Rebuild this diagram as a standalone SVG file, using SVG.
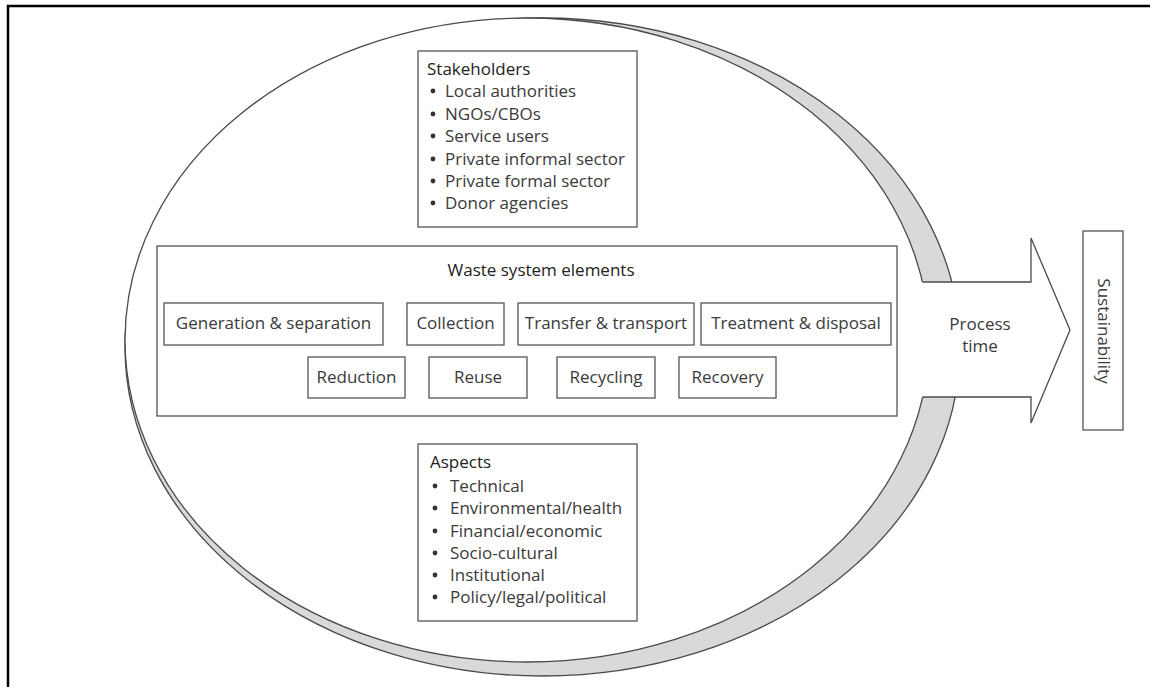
<svg xmlns="http://www.w3.org/2000/svg" width="1150" height="687" viewBox="0 0 1150 687">
<style>
text{font-family:"Open Sans","Liberation Sans",sans-serif;font-size:17px;fill:#3a3a3a}
.hd{fill:#222}
.box{fill:#fff;stroke:#555;stroke-width:1.3}
.lbl{text-anchor:middle}
.ln{fill:none;stroke:#4a4a4a;stroke-width:1.3}
.bul{fill:#333}
</style>
<rect width="1150" height="687" fill="#fff"/>
<path d="M8,687 V6 H1150" fill="none" stroke="#000" stroke-width="2.5"/>
<g id="disc">
<ellipse cx="542.5" cy="347" rx="417.5" ry="329" fill="#d9d9d9" stroke="#4a4a4a" stroke-width="1.3"/>
<ellipse cx="527" cy="340" rx="402" ry="322" fill="#fff" stroke="#4a4a4a" stroke-width="1.3"/>
</g>
<g id="connectors">
<polygon points="905,282 1031,282 1031,238 1070,330 1031,423 1031,397 905,397" fill="#fff" stroke="none"/>
<polyline class="ln" points="922.4,282 1031,282 1031,238 1070,330 1031,423 1031,397 922.6,397"/>
<text class="lbl" x="980" y="330">Process</text>
<text class="lbl" x="980" y="352">time</text>
</g>
<g id="stakeholders">
<rect class="box" x="418" y="51" width="219" height="176"/>
<text class="hd" x="427" y="75">Stakeholders</text>
<g class="bul"><circle cx="433" cy="91" r="2.4"/><circle cx="433" cy="114" r="2.4"/><circle cx="433" cy="136" r="2.4"/><circle cx="433" cy="159" r="2.4"/><circle cx="433" cy="181" r="2.4"/><circle cx="433" cy="203" r="2.4"/></g>
<text x="445" y="97">Local authorities</text>
<text x="445" y="120">NGOs/CBOs</text>
<text x="445" y="142">Service users</text>
<text x="445" y="165">Private informal sector</text>
<text x="445" y="187">Private formal sector</text>
<text x="445" y="209">Donor agencies</text>
</g>
<g id="waste-system">
<rect class="box" x="157" y="246" width="740" height="170"/>
<text class="hd lbl" x="541" y="276">Waste system elements</text>
</g>
<g id="generation"><rect class="box" x="164" y="303" width="219" height="42"/><text class="lbl" x="273.5" y="329">Generation &amp; separation</text></g>
<g id="collection"><rect class="box" x="407" y="303" width="97" height="42"/><text class="lbl" x="455.5" y="329">Collection</text></g>
<g id="transfer"><rect class="box" x="518" y="303" width="176" height="42"/><text class="lbl" x="606" y="329">Transfer &amp; transport</text></g>
<g id="treatment"><rect class="box" x="701" y="303" width="190" height="42"/><text class="lbl" x="796" y="329">Treatment &amp; disposal</text></g>
<g id="reduction"><rect class="box" x="308" y="357" width="97" height="41"/><text class="lbl" x="356.5" y="383">Reduction</text></g>
<g id="reuse"><rect class="box" x="429" y="357" width="98" height="41"/><text class="lbl" x="478" y="383">Reuse</text></g>
<g id="recycling"><rect class="box" x="557" y="357" width="98" height="41"/><text class="lbl" x="606" y="383">Recycling</text></g>
<g id="recovery"><rect class="box" x="679" y="357" width="97" height="41"/><text class="lbl" x="727.5" y="383">Recovery</text></g>
<g id="aspects">
<rect class="box" x="418" y="444" width="219" height="177"/>
<text class="hd" x="430" y="468">Aspects</text>
<g class="bul"><circle cx="435" cy="486" r="2.4"/><circle cx="435" cy="508" r="2.4"/><circle cx="435" cy="531" r="2.4"/><circle cx="435" cy="553" r="2.4"/><circle cx="435" cy="575" r="2.4"/><circle cx="435" cy="597" r="2.4"/></g>
<text x="450" y="492">Technical</text>
<text x="450" y="514">Environmental/health</text>
<text x="450" y="537">Financial/economic</text>
<text x="450" y="559">Socio-cultural</text>
<text x="450" y="581">Institutional</text>
<text x="450" y="603">Policy/legal/political</text>
</g>
<g id="sustainability">
<rect class="box" x="1083" y="231" width="40" height="199"/>
<text class="lbl" transform="translate(1104,331) rotate(90)" dy="0.35em">Sustainability</text>
</g>
</svg>
